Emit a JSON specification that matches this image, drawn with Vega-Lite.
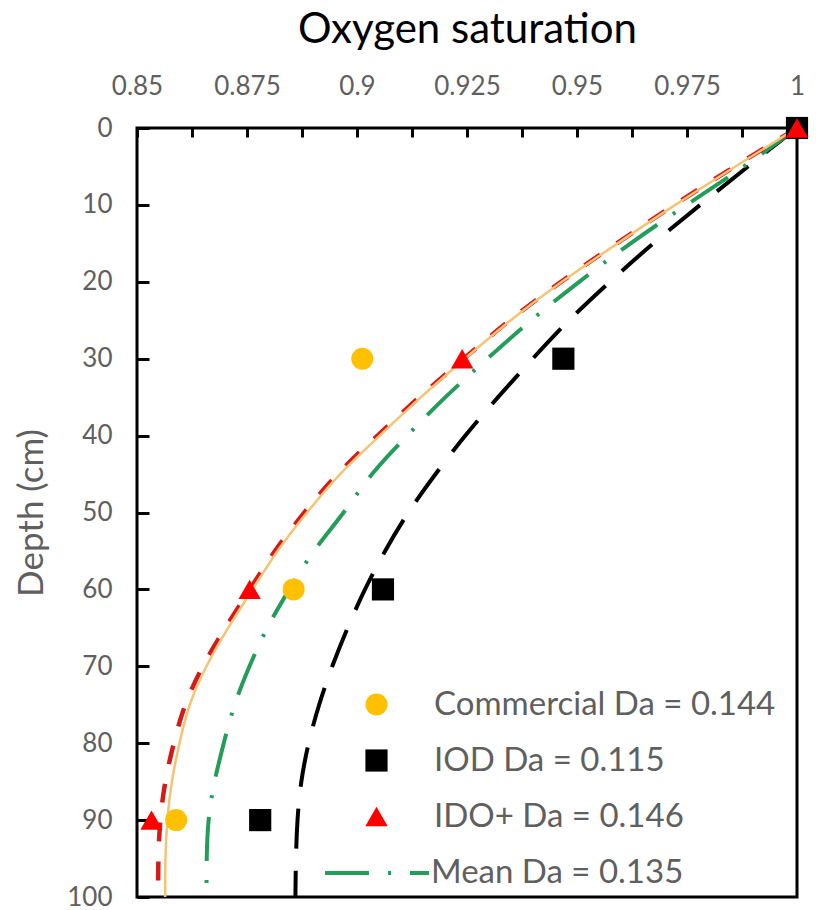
{
  "$schema": "https://vega.github.io/schema/vega-lite/v6.json",
  "width": 660,
  "height": 769,
  "autosize": {"type": "none"},
  "padding": {"left": 137, "top": 128, "right": 19, "bottom": 13},
  "background": "white",
  "config": {
    "font": "Lato",
    "view": {"stroke": "#000000", "strokeWidth": 3},
    "axis": {"grid": false, "domain": false}
  },
  "datasets": {
    "curves": [
      {"series": "IOD fit", "depth": 0, "sat": 1.0},
      {"series": "IOD fit", "depth": 5, "sat": 0.9888},
      {"series": "IOD fit", "depth": 10, "sat": 0.978},
      {"series": "IOD fit", "depth": 15, "sat": 0.9672},
      {"series": "IOD fit", "depth": 20, "sat": 0.9574},
      {"series": "IOD fit", "depth": 25, "sat": 0.948},
      {"series": "IOD fit", "depth": 30, "sat": 0.9399},
      {"series": "IOD fit", "depth": 35, "sat": 0.932},
      {"series": "IOD fit", "depth": 40, "sat": 0.9245},
      {"series": "IOD fit", "depth": 45, "sat": 0.9178},
      {"series": "IOD fit", "depth": 50, "sat": 0.9115},
      {"series": "IOD fit", "depth": 55, "sat": 0.9063},
      {"series": "IOD fit", "depth": 60, "sat": 0.9017},
      {"series": "IOD fit", "depth": 65, "sat": 0.8978},
      {"series": "IOD fit", "depth": 70, "sat": 0.8943},
      {"series": "IOD fit", "depth": 75, "sat": 0.8913},
      {"series": "IOD fit", "depth": 80, "sat": 0.8889},
      {"series": "IOD fit", "depth": 85, "sat": 0.8872},
      {"series": "IOD fit", "depth": 90, "sat": 0.8864},
      {"series": "IOD fit", "depth": 95, "sat": 0.8861},
      {"series": "IOD fit", "depth": 100, "sat": 0.886},

      {"series": "Mean Da = 0.135", "depth": 0, "sat": 1.0},
      {"series": "Mean Da = 0.135", "depth": 5, "sat": 0.9882},
      {"series": "Mean Da = 0.135", "depth": 10, "sat": 0.9748},
      {"series": "Mean Da = 0.135", "depth": 15, "sat": 0.962},
      {"series": "Mean Da = 0.135", "depth": 20, "sat": 0.9504},
      {"series": "Mean Da = 0.135", "depth": 25, "sat": 0.9394},
      {"series": "Mean Da = 0.135", "depth": 30, "sat": 0.9296},
      {"series": "Mean Da = 0.135", "depth": 35, "sat": 0.9199},
      {"series": "Mean Da = 0.135", "depth": 40, "sat": 0.9114},
      {"series": "Mean Da = 0.135", "depth": 45, "sat": 0.903},
      {"series": "Mean Da = 0.135", "depth": 50, "sat": 0.8972},
      {"series": "Mean Da = 0.135", "depth": 55, "sat": 0.8899},
      {"series": "Mean Da = 0.135", "depth": 60, "sat": 0.8846},
      {"series": "Mean Da = 0.135", "depth": 65, "sat": 0.8794},
      {"series": "Mean Da = 0.135", "depth": 70, "sat": 0.8755},
      {"series": "Mean Da = 0.135", "depth": 75, "sat": 0.872},
      {"series": "Mean Da = 0.135", "depth": 80, "sat": 0.8697},
      {"series": "Mean Da = 0.135", "depth": 85, "sat": 0.8675},
      {"series": "Mean Da = 0.135", "depth": 90, "sat": 0.8661},
      {"series": "Mean Da = 0.135", "depth": 95, "sat": 0.8658},
      {"series": "Mean Da = 0.135", "depth": 100, "sat": 0.8658},

      {"series": "IDO+ fit", "depth": 0, "sat": 1.0},
      {"series": "IDO+ fit", "depth": 5, "sat": 0.9858},
      {"series": "IDO+ fit", "depth": 10, "sat": 0.972},
      {"series": "IDO+ fit", "depth": 15, "sat": 0.959},
      {"series": "IDO+ fit", "depth": 20, "sat": 0.9462},
      {"series": "IDO+ fit", "depth": 25, "sat": 0.9345},
      {"series": "IDO+ fit", "depth": 30, "sat": 0.9243},
      {"series": "IDO+ fit", "depth": 35, "sat": 0.914},
      {"series": "IDO+ fit", "depth": 40, "sat": 0.9047},
      {"series": "IDO+ fit", "depth": 45, "sat": 0.8952},
      {"series": "IDO+ fit", "depth": 50, "sat": 0.888},
      {"series": "IDO+ fit", "depth": 55, "sat": 0.8811},
      {"series": "IDO+ fit", "depth": 60, "sat": 0.8757},
      {"series": "IDO+ fit", "depth": 65, "sat": 0.87},
      {"series": "IDO+ fit", "depth": 70, "sat": 0.8648},
      {"series": "IDO+ fit", "depth": 75, "sat": 0.8607},
      {"series": "IDO+ fit", "depth": 80, "sat": 0.8583},
      {"series": "IDO+ fit", "depth": 85, "sat": 0.8563},
      {"series": "IDO+ fit", "depth": 90, "sat": 0.8552},
      {"series": "IDO+ fit", "depth": 95, "sat": 0.8548},
      {"series": "IDO+ fit", "depth": 100, "sat": 0.8548},

      {"series": "Commercial fit", "depth": 0, "sat": 1.0},
      {"series": "Commercial fit", "depth": 5, "sat": 0.986},
      {"series": "Commercial fit", "depth": 10, "sat": 0.9722},
      {"series": "Commercial fit", "depth": 15, "sat": 0.9592},
      {"series": "Commercial fit", "depth": 20, "sat": 0.9464},
      {"series": "Commercial fit", "depth": 25, "sat": 0.9347},
      {"series": "Commercial fit", "depth": 30, "sat": 0.9245},
      {"series": "Commercial fit", "depth": 35, "sat": 0.9144},
      {"series": "Commercial fit", "depth": 40, "sat": 0.9052},
      {"series": "Commercial fit", "depth": 45, "sat": 0.8958},
      {"series": "Commercial fit", "depth": 50, "sat": 0.8886},
      {"series": "Commercial fit", "depth": 55, "sat": 0.8817},
      {"series": "Commercial fit", "depth": 60, "sat": 0.8763},
      {"series": "Commercial fit", "depth": 65, "sat": 0.8706},
      {"series": "Commercial fit", "depth": 70, "sat": 0.8656},
      {"series": "Commercial fit", "depth": 75, "sat": 0.8617},
      {"series": "Commercial fit", "depth": 80, "sat": 0.8596},
      {"series": "Commercial fit", "depth": 85, "sat": 0.8578},
      {"series": "Commercial fit", "depth": 90, "sat": 0.8568},
      {"series": "Commercial fit", "depth": 95, "sat": 0.8564},
      {"series": "Commercial fit", "depth": 100, "sat": 0.8564}
    ],
    "points": [
      {"series": "Commercial Da = 0.144", "depth": 0, "sat": 1.0},
      {"series": "Commercial Da = 0.144", "depth": 30, "sat": 0.9012},
      {"series": "Commercial Da = 0.144", "depth": 60, "sat": 0.8856},
      {"series": "Commercial Da = 0.144", "depth": 90, "sat": 0.8589},
      {"series": "IOD Da = 0.115", "depth": 0, "sat": 1.0},
      {"series": "IOD Da = 0.115", "depth": 30, "sat": 0.9469},
      {"series": "IOD Da = 0.115", "depth": 60, "sat": 0.9059},
      {"series": "IOD Da = 0.115", "depth": 90, "sat": 0.878},
      {"series": "IDO+ Da = 0.146", "depth": 0, "sat": 1.0},
      {"series": "IDO+ Da = 0.146", "depth": 30, "sat": 0.9239},
      {"series": "IDO+ Da = 0.146", "depth": 60, "sat": 0.8756},
      {"series": "IDO+ Da = 0.146", "depth": 90, "sat": 0.8533}
    ]
  },
  "encoding": {
    "x": {
      "field": "sat",
      "type": "quantitative",
      "scale": {"domain": [0.85, 1], "nice": false, "zero": false},
      "axis": {
        "orient": "top",
        "title": "Oxygen saturation",
        "titleFontSize": 42,
        "titleFontWeight": "normal",
        "titleColor": "#000000",
        "titlePadding": 22,
        "values": [0.85, 0.8625, 0.875, 0.8875, 0.9, 0.9125, 0.925, 0.9375, 0.95, 0.9625, 0.975, 0.9875, 1],
        "labelExpr": "round(datum.value * 80) % 2 == 0 ? format(datum.value, '~g') : ''",
        "labelFontSize": 26,
        "labelColor": "#5f5f5f",
        "labelPadding": 38,
        "labelFlush": false,
        "labelOverlap": false,
        "labelBound": false,
        "tickSize": -9,
        "tickWidth": 3,
        "tickColor": "#000000"
      }
    },
    "y": {
      "field": "depth",
      "type": "quantitative",
      "scale": {"domain": [0, 100], "reverse": true, "nice": false},
      "axis": {
        "title": "Depth (cm)",
        "titleFontSize": 35,
        "titleFontWeight": "normal",
        "titleColor": "#5f5f5f",
        "titlePadding": 17,
        "values": [0, 10, 20, 30, 40, 50, 60, 70, 80, 90, 100],
        "labelFontSize": 26,
        "labelColor": "#5f5f5f",
        "labelPadding": 37,
        "labelFlush": false,
        "labelOverlap": false,
        "tickSize": -12,
        "tickWidth": 3,
        "tickColor": "#000000"
      }
    }
  },
  "layer": [
    {
      "data": {"name": "curves"},
      "transform": [{"filter": "datum.series === 'IOD fit'"}],
      "mark": {"type": "line", "interpolate": "basis", "color": "#000000", "strokeWidth": 4, "strokeDash": [40, 22]},
      "encoding": {"order": {"field": "depth", "type": "quantitative"}}
    },
    {
      "data": {"name": "curves"},
      "transform": [{"filter": "datum.series === 'Mean Da = 0.135'"}],
      "mark": {"type": "line", "interpolate": "basis", "strokeWidth": 4},
      "encoding": {
        "order": {"field": "depth", "type": "quantitative"},
        "color": {
          "field": "series",
          "type": "nominal",
          "scale": {"domain": ["Mean Da = 0.135"], "range": ["#249C5A"]},
          "legend": {
            "title": null,
            "orient": "none",
            "legendX": 186,
            "legendY": 691,
            "padding": 0,
            "symbolSize": 10816,
            "symbolStrokeWidth": 4,
            "labelOffset": 0,
            "labelLimit": 0,
            "labelFontSize": 33,
            "labelColor": "#5f5f5f"
          }
        },
        "strokeDash": {
          "field": "series",
          "type": "nominal",
          "scale": {"domain": ["Mean Da = 0.135"], "range": [[44, 19, 3, 19]]}
        }
      }
    },
    {
      "data": {"name": "curves"},
      "transform": [{"filter": "datum.series === 'IDO+ fit'"}],
      "mark": {"type": "line", "interpolate": "basis", "color": "#D41A1A", "strokeWidth": 4.5, "strokeDash": [19, 20]},
      "encoding": {"order": {"field": "depth", "type": "quantitative"}}
    },
    {
      "data": {"name": "curves"},
      "transform": [{"filter": "datum.series === 'Commercial fit'"}],
      "mark": {"type": "line", "interpolate": "basis", "color": "#F6C374", "strokeWidth": 2.5},
      "encoding": {"order": {"field": "depth", "type": "quantitative"}}
    },
    {
      "data": {"name": "points"},
      "mark": {"type": "point", "filled": true, "opacity": 1, "strokeWidth": 0},
      "encoding": {
        "color": {
          "field": "series",
          "type": "nominal",
          "scale": {
            "domain": ["Commercial Da = 0.144", "IOD Da = 0.115", "IDO+ Da = 0.146"],
            "range": ["#FFC000", "#000000", "#FF0000"]
          },
          "legend": {
            "title": null,
            "orient": "none",
            "legendX": 223,
            "legendY": 560,
            "padding": 0,
            "rowPadding": 22,
            "labelOffset": 41,
            "labelLimit": 0,
            "labelFontSize": 33,
            "labelColor": "#5f5f5f"
          }
        },
        "shape": {
          "field": "series",
          "type": "nominal",
          "scale": {
            "domain": ["Commercial Da = 0.144", "IOD Da = 0.115", "IDO+ Da = 0.146"],
            "range": ["circle", "square", "triangle-up"]
          }
        },
        "size": {
          "field": "series",
          "type": "ordinal",
          "scale": {
            "domain": ["Commercial Da = 0.144", "IOD Da = 0.115", "IDO+ Da = 0.146"],
            "range": [484, 500, 625]
          }
        }
      }
    }
  ],
  "resolve": {
    "scale": {"color": "independent", "strokeDash": "independent", "shape": "independent", "size": "independent"}
  }
}
